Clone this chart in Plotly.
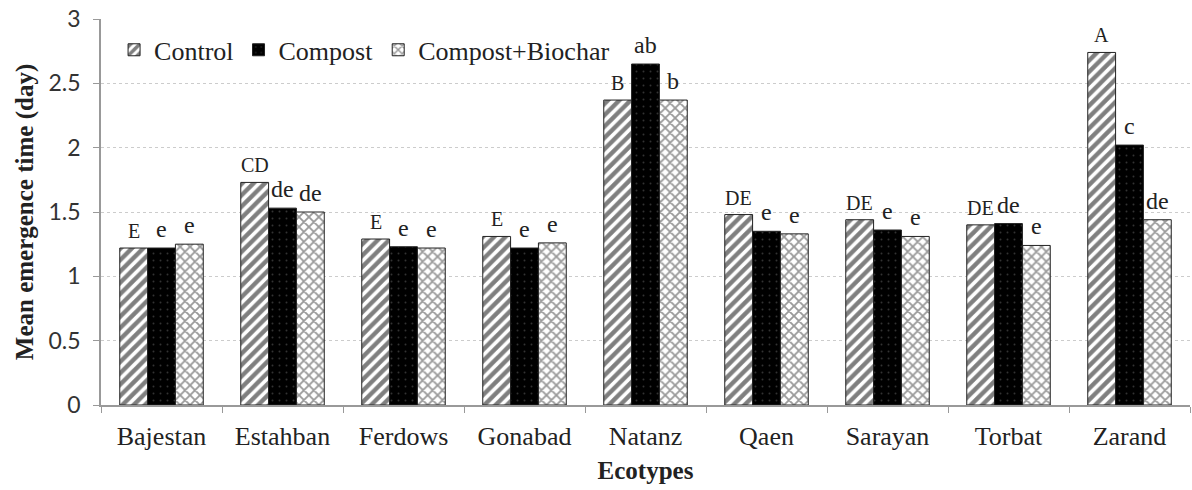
import plotly.graph_objects as go

ecotypes = ["Bajestan", "Estahban", "Ferdows", "Gonabad", "Natanz", "Qaen", "Sarayan", "Torbat", "Zarand"]
control = [1.22, 1.73, 1.29, 1.31, 2.37, 1.48, 1.44, 1.40, 2.74]
compost = [1.22, 1.53, 1.23, 1.22, 2.65, 1.35, 1.36, 1.41, 2.02]
compost_biochar = [1.25, 1.50, 1.22, 1.26, 2.37, 1.33, 1.31, 1.24, 1.44]
letters_control = ["E", "CD", "E", "E", "B", "DE", "DE", "DE", "A"]
letters_compost = ["e", "de", "e", "e", "ab", "e", "e", "de", "c"]
letters_cb = ["e", "de", "e", "e", "b", "e", "e", "e", "de"]

serif = "Liberation Serif, Times New Roman, serif"
bargap = 0.31

series = [
    ("Control", control, letters_control,
     dict(shape="/", fgcolor="black", bgcolor="white", size=8, solidity=0.55), 20),
    ("Compost", compost, letters_compost,
     dict(shape=".", fgcolor="#666", bgcolor="black", size=7, solidity=0.06), 24),
    ("Compost+Biochar", compost_biochar, letters_cb,
     dict(shape="x", fgcolor="#333", bgcolor="white", size=7, solidity=0.45), 24),
]

fig = go.Figure()
for name, vals, _, pat, _ in series:
    fig.add_trace(go.Bar(
        name=name, x=ecotypes, y=vals,
        marker=dict(color="white", pattern=pat, line=dict(color="#222", width=1)),
    ))

bw = (1 - bargap) / len(series)
annotations = []
for k, (name, vals, labels, _, fsize) in enumerate(series):
    off = (k - (len(series) - 1) / 2) * bw
    for i, (v, lab) in enumerate(zip(vals, labels)):
        annotations.append(dict(
            x=i + off, y=v, xref="x", yref="y", text=lab, showarrow=False,
            yanchor="bottom", yshift=4,
            font=dict(family=serif, size=fsize, color="#222"),
        ))

fig.update_layout(
    width=1192, height=490,
    margin=dict(l=101, r=2, t=19, b=85),
    paper_bgcolor="white", plot_bgcolor="white",
    barmode="group", bargap=bargap, bargroupgap=0,
    annotations=annotations,
    legend=dict(
        orientation="h", x=0.012, y=0.92, xanchor="left", yanchor="middle",
        font=dict(family=serif, size=26, color="#222"),
        bgcolor="rgba(0,0,0,0)", itemwidth=30, tracegroupgap=0,
    ),
    xaxis=dict(
        title=dict(text="<b>Ecotypes</b>", font=dict(family=serif, size=25, color="#222"), standoff=12),
        tickfont=dict(family=serif, size=26, color="#222"),
        ticklabelstandoff=7,
        showline=True, linecolor="#999", linewidth=1.5,
        ticks="outside", tickson="boundaries", ticklen=6, tickcolor="#999",
        showgrid=False,
    ),
    yaxis=dict(
        title=dict(text="<b>Mean emergence time (day)</b>", font=dict(family=serif, size=25, color="#222"), standoff=8),
        tickfont=dict(family="Lato, sans-serif", size=23, color="#333"),
        ticklabelstandoff=8,
        range=[0, 3], dtick=0.5,
        showline=True, linecolor="#999", linewidth=1.5,
        ticks="outside", ticklen=6, tickcolor="#999",
        showgrid=True, gridcolor="#ccc", griddash="dot", gridwidth=1,
        zeroline=False,
    ),
)

fig.write_html("out.html")
